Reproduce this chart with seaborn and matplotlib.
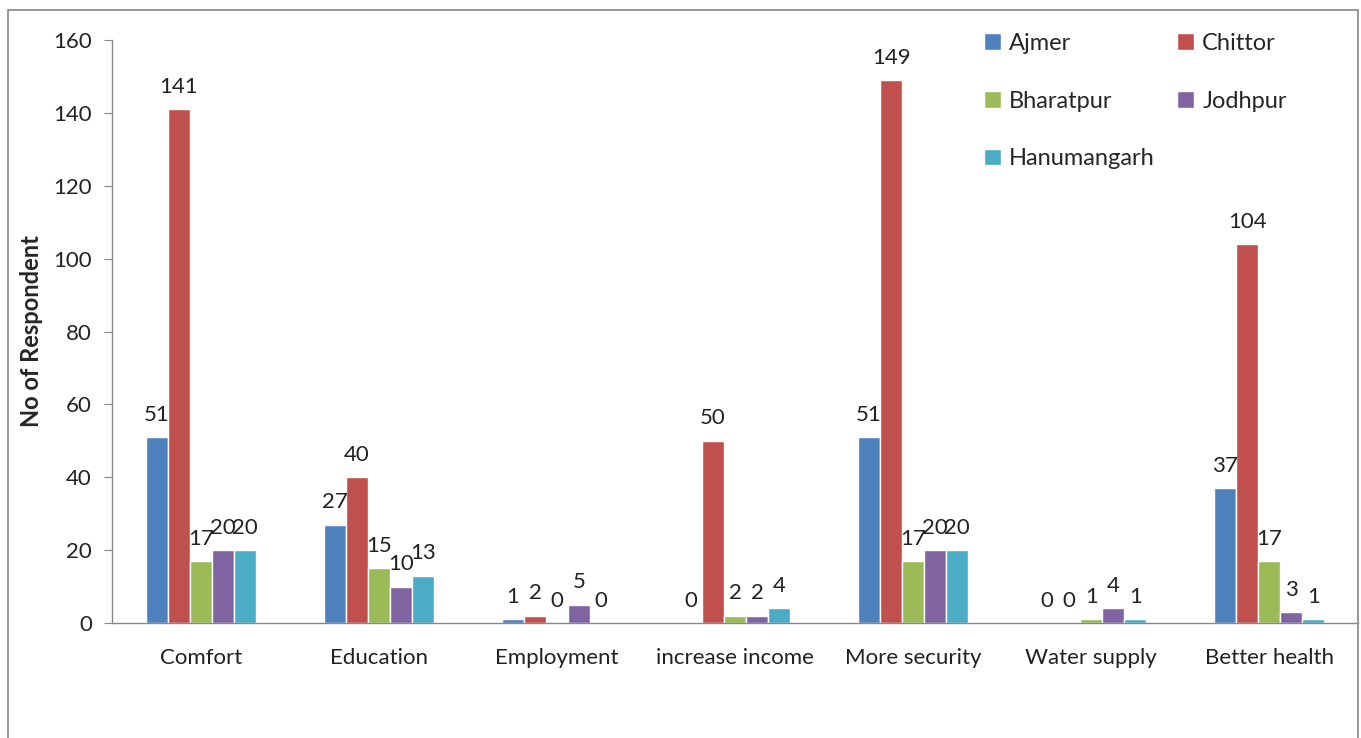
import matplotlib
matplotlib.use("Agg")
import matplotlib.pyplot as plt
import seaborn as sns
import pandas as pd
from matplotlib.patches import Rectangle

categories = ["Comfort", "Education", "Employment", "increase income",
              "More security", "Water supply", "Better health"]
districts = ["Ajmer", "Chittor", "Bharatpur", "Jodhpur", "Hanumangarh"]
ajmer = [51, 27, 1, 0, 51, 0, 37]
chittor = [141, 40, 2, 50, 149, 0, 104]
bharatpur = [17, 15, 0, 2, 17, 1, 17]
jodhpur = [20, 10, 5, 2, 20, 4, 3]
hanumangarh = [20, 13, 0, 4, 20, 1, 1]
y_ticks = [0, 20, 40, 60, 80, 100, 120, 140, 160]

colors = ["#4F81BD", "#C0504D", "#9BBB59", "#8064A2", "#4BACC6"]

series = [ajmer, chittor, bharatpur, jodhpur, hanumangarh]
rows = []
for d, vals in zip(districts, series):
    for c, v in zip(categories, vals):
        rows.append({"Reason": c, "District": d, "Count": v})
df = pd.DataFrame(rows)

sns.set_style("white")
plt.rcParams["font.family"] = ["Lato", "DejaVu Sans"]

fig = plt.figure(figsize=(13.61, 7.38), dpi=100)
ax = fig.add_axes([0.0823, 0.1558, 0.9157, 0.790])

sns.barplot(data=df, x="Reason", y="Count", hue="District",
            order=categories, hue_order=districts, palette=colors,
            width=0.62, saturation=1, ax=ax, errorbar=None)

for cont in ax.containers:
    ax.bar_label(cont, padding=9, fontsize=16, color="#222222")

ax.set_ylim(0, 160)
ax.set_xlim(-0.5, len(categories) - 0.5)
ax.set_yticks(y_ticks)
ax.tick_params(axis="y", labelsize=16, length=5.5, color="#888888",
               direction="out", left=True, pad=9, labelcolor="#222222")
ax.tick_params(axis="x", labelsize=16, length=0, pad=18, labelcolor="#222222")
ax.set_xlabel("")
ax.set_ylabel("No of Respondent", fontsize=17, fontweight="bold", labelpad=7)

for s in ["top", "right"]:
    ax.spines[s].set_visible(False)
for s in ["left", "bottom"]:
    ax.spines[s].set_color("#888888")
    ax.spines[s].set_linewidth(1.0)

# legend filled row by row: Ajmer, Chittor / Bharatpur, Jodhpur / Hanumangarh
handles, labels = ax.get_legend_handles_labels()
order = [0, 2, 4, 1, 3]
ax.legend([handles[i] for i in order], [labels[i] for i in order],
          ncol=2, loc="upper left", bbox_to_anchor=(0.683, 1.049),
          frameon=False, fontsize=17, handlelength=0.7,
          handleheight=0.7, handletextpad=0.35, labelspacing=1.56,
          columnspacing=0.95)

# outer chart frame
fig.patches.append(Rectangle((8 / 1361, -0.05), 1350 / 1361, 1.05 - 10 / 738,
                             transform=fig.transFigure, fill=False,
                             edgecolor="#888888", linewidth=1.2))

fig.savefig("out.png", dpi=100)
